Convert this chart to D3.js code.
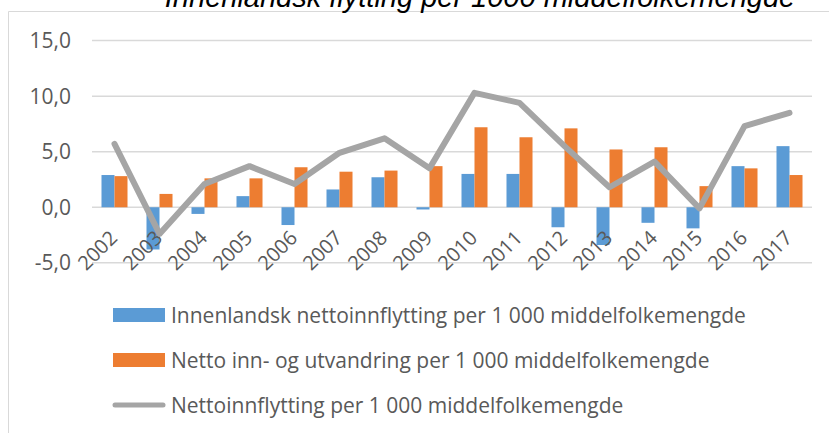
<!DOCTYPE html>
<html>
<head>
<meta charset="utf-8">
<script src="https://cdn.jsdelivr.net/npm/d3@7"></script>
<style>
  html, body { margin: 0; padding: 0; background: #fff; }
  svg { display: block; }
</style>
</head>
<body>
<svg id="chart" width="829" height="433"></svg>
<script>
const years = ["2002","2003","2004","2005","2006","2007","2008","2009","2010","2011","2012","2013","2014","2015","2016","2017"];
const innenlandsk = [2.9, -3.8, -0.6, 1.0, -1.6, 1.6, 2.7, -0.2, 3.0, 3.0, -1.8, -3.4, -1.4, -1.9, 3.7, 5.5];
const innUtvandring = [2.8, 1.2, 2.6, 2.6, 3.6, 3.2, 3.3, 3.7, 7.2, 6.3, 7.1, 5.2, 5.4, 1.9, 3.5, 2.9];
const nettoinnflytting = [5.7, -2.4, 2.1, 3.7, 2.1, 4.9, 6.2, 3.5, 10.3, 9.4, 5.5, 1.8, 4.1, -0.1, 7.3, 8.5];
const yTicks = [-5, 0, 5, 10, 15];
const seriesNames = [
  "Innenlandsk nettoinnflytting per 1 000 middelfolkemengde",
  "Netto inn- og utvandring per 1 000 middelfolkemengde",
  "Nettoinnflytting per 1 000 middelfolkemengde"
];
const titleText = "Innenlandsk flytting per 1000 middelfolkemengde";

const colors = ["#5B9BD5", "#ED7D31", "#A5A5A5"];
const font = "'Open Sans', 'Liberation Sans', Arial, sans-serif";
const titleFont = "'Liberation Sans', Arial, sans-serif";
const textColor = "#595959";

const svg = d3.select("#chart");

// chart border
svg.append("path")
  .attr("d", "M8.5,433 L8.5,11.5 L829,11.5")
  .attr("fill", "none").attr("stroke", "#D9D9D9").attr("stroke-width", 1);

// title (partially cut off at top, as in the original)
svg.append("text")
  .attr("x", 480).attr("y", 7)
  .attr("text-anchor", "middle")
  .attr("font-family", titleFont).attr("font-style", "italic")
  .attr("font-size", 29).attr("fill", "#000")
  .text(titleText);

const x0 = d3.scaleBand().domain(years).range([92, 812]).padding(0);
const x1 = d3.scaleBand().domain([0, 1]).range([0, x0.bandwidth()]).paddingInner(0).paddingOuter(0.73);
const y = d3.scaleLinear().domain([-5, 15]).range([262.8, 40.6]);

// gridlines
svg.append("g").selectAll("line").data(yTicks).join("line")
  .attr("x1", 92).attr("x2", 812)
  .attr("y1", d => y(d)).attr("y2", d => y(d))
  .attr("stroke", "#D9D9D9").attr("stroke-width", 1.5);

// y-axis labels
const fmt = d => d3.format(".1f")(d).replace(".", ",").replace("−", "-");
svg.append("g").selectAll("text").data(yTicks).join("text")
  .attr("x", 71).attr("y", d => y(d))
  .attr("dy", "0.36em")
  .attr("text-anchor", "end")
  .attr("font-family", font).attr("font-size", 21).attr("fill", textColor)
  .text(d => fmt(d));

// bars
const barSeries = [innenlandsk, innUtvandring];
barSeries.forEach((vals, si) => {
  svg.append("g").selectAll("rect").data(vals).join("rect")
    .attr("x", (d, i) => x0(years[i]) + x1(si))
    .attr("width", x1.bandwidth())
    .attr("y", d => Math.min(y(d), y(0)))
    .attr("height", d => Math.abs(y(d) - y(0)))
    .attr("fill", colors[si]);
});

// x labels
svg.append("g").selectAll("text").data(years).join("text")
  .attr("transform", d => `translate(${x0(d) + x0.bandwidth() / 2 + 4},${y(0) + 32}) rotate(-45)`)
  .attr("text-anchor", "end")
  .attr("font-family", font).attr("font-size", 20).attr("fill", textColor)
  .text(d => d);

// line
const line = d3.line()
  .x((d, i) => x0(years[i]) + x0.bandwidth() / 2)
  .y(d => y(d));
svg.append("path")
  .datum(nettoinnflytting)
  .attr("d", line)
  .attr("fill", "none")
  .attr("stroke", colors[2])
  .attr("stroke-width", 6)
  .attr("stroke-linejoin", "round")
  .attr("stroke-linecap", "round");

// legend
const legendY = [315, 360, 405];
const lg = svg.append("g");
seriesNames.forEach((name, i) => {
  if (i < 2) {
    lg.append("rect")
      .attr("x", 113).attr("y", legendY[i] - 7)
      .attr("width", 52).attr("height", 14)
      .attr("fill", colors[i]);
  } else {
    lg.append("line")
      .attr("x1", 115).attr("x2", 163)
      .attr("y1", legendY[i]).attr("y2", legendY[i])
      .attr("stroke", colors[i]).attr("stroke-width", 5)
      .attr("stroke-linecap", "round");
  }
  lg.append("text")
    .attr("x", 171).attr("y", legendY[i])
    .attr("dy", "0.36em")
    .attr("font-family", font).attr("font-size", 21).attr("fill", textColor)
    .text(name);
});
</script>
</body>
</html>
